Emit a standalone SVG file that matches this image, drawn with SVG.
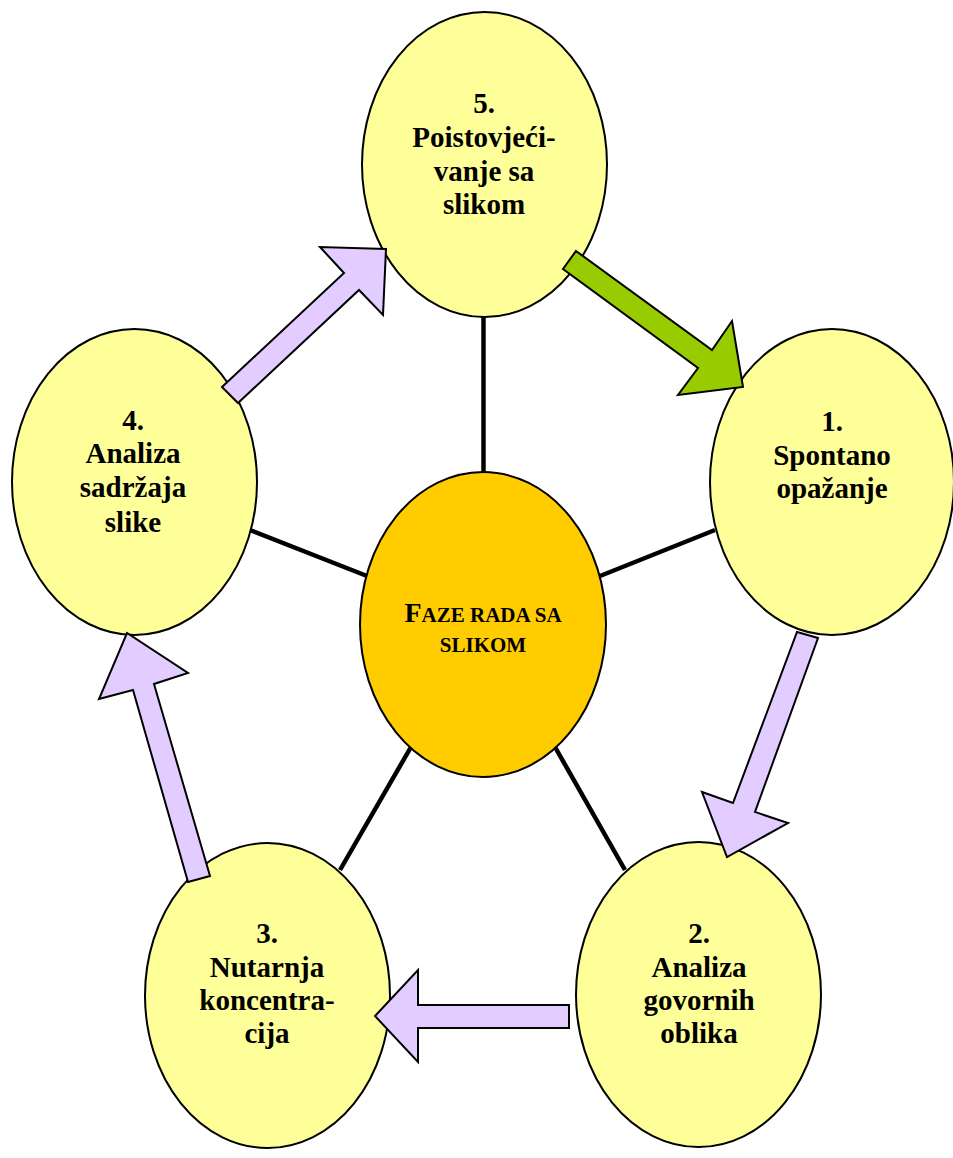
<svg xmlns="http://www.w3.org/2000/svg" width="953" height="1158" viewBox="0 0 953 1158">
  <style>
    .phase { fill: #FFFF99; stroke: #000; stroke-width: 2; }
    .hub { fill: #FFCC00; stroke: #000; stroke-width: 2; }
    .spoke { stroke: #000; stroke-width: 4.5; stroke-linecap: butt; }
    .flow { fill: #E3CCFF; stroke: #000; stroke-width: 2; stroke-linejoin: miter; }
    .flow-start { fill: #99CC00; stroke: #000; stroke-width: 2; }
    .label { font-family: "Liberation Serif", "Times New Roman", serif; font-weight: bold; font-size: 29px; fill: #000; text-anchor: middle; }
    .hub-label { font-family: "Liberation Serif", "Times New Roman", serif; font-weight: bold; fill: #000; text-anchor: middle; }
  </style>
  <rect width="953" height="1158" fill="#fff"/>

  <!-- spokes from the hub to each phase -->
  <g id="spokes">
    <line class="spoke" x1="483.5" y1="316" x2="483.5" y2="473"/>
    <line class="spoke" x1="250" y1="530" x2="367" y2="576"/>
    <line class="spoke" x1="600" y1="576" x2="715" y2="530"/>
    <line class="spoke" x1="411" y1="747" x2="340" y2="870"/>
    <line class="spoke" x1="555" y1="747" x2="625" y2="870"/>
  </g>

  <g id="hub">
    <ellipse class="hub" cx="483" cy="624.5" rx="123" ry="152.5"/>
    <text class="hub-label" x="483" y="622"><tspan font-size="28">F</tspan><tspan font-size="21">AZE RADA SA</tspan></text>
    <text class="hub-label" x="483" y="652" font-size="21">SLIKOM</text>
  </g>

  <g id="phase5">
    <ellipse class="phase" cx="484.5" cy="164.5" rx="122.5" ry="152.5"/>
    <text class="label" x="484" y="113">5.</text>
    <text class="label" x="484" y="147">Poistovjeći-</text>
    <text class="label" x="484" y="181">vanje sa</text>
    <text class="label" x="484" y="214">slikom</text>
  </g>

  <g id="phase1">
    <ellipse class="phase" cx="832" cy="482" rx="122" ry="153"/>
    <text class="label" x="832" y="431">1.</text>
    <text class="label" x="832" y="464.5">Spontano</text>
    <text class="label" x="832" y="498">opažanje</text>
  </g>

  <g id="phase2">
    <ellipse class="phase" cx="698.5" cy="994.5" rx="122.5" ry="152.5"/>
    <text class="label" x="699" y="943">2.</text>
    <text class="label" x="699" y="977">Analiza</text>
    <text class="label" x="699" y="1010">govornih</text>
    <text class="label" x="699" y="1043">oblika</text>
  </g>

  <g id="phase3">
    <ellipse class="phase" cx="267.5" cy="995.5" rx="122.5" ry="152.5"/>
    <text class="label" x="267" y="943">3.</text>
    <text class="label" x="267" y="977">Nutarnja</text>
    <text class="label" x="267" y="1010">koncentra-</text>
    <text class="label" x="267" y="1043">cija</text>
  </g>

  <g id="phase4">
    <ellipse class="phase" cx="134.5" cy="482" rx="122.5" ry="153"/>
    <text class="label" x="133" y="430">4.</text>
    <text class="label" x="133" y="463">Analiza</text>
    <text class="label" x="133" y="497">sadržaja</text>
    <text class="label" x="133" y="532">slike</text>
  </g>

  <!-- block arrows around the cycle -->
  <g id="connectors">
    <polygon class="flow-start" points="576,251 712,350 732,321 743,387 678,395 698,368 563,269"/>
    <polygon class="flow" points="797,632 818,638 755,812 788,823 727,857 702,792 733,803"/>
    <polygon class="flow" points="569,1005 418,1005 418,970 375,1016 418,1062 418,1028 569,1028"/>
    <polygon class="flow" points="188,882 133,690 99,699 127,633 188,673 154,684 210,876"/>
    <polygon class="flow" points="222,387 344,273 320,247 386,249 383,315 359,290 238,403"/>
  </g>
</svg>
